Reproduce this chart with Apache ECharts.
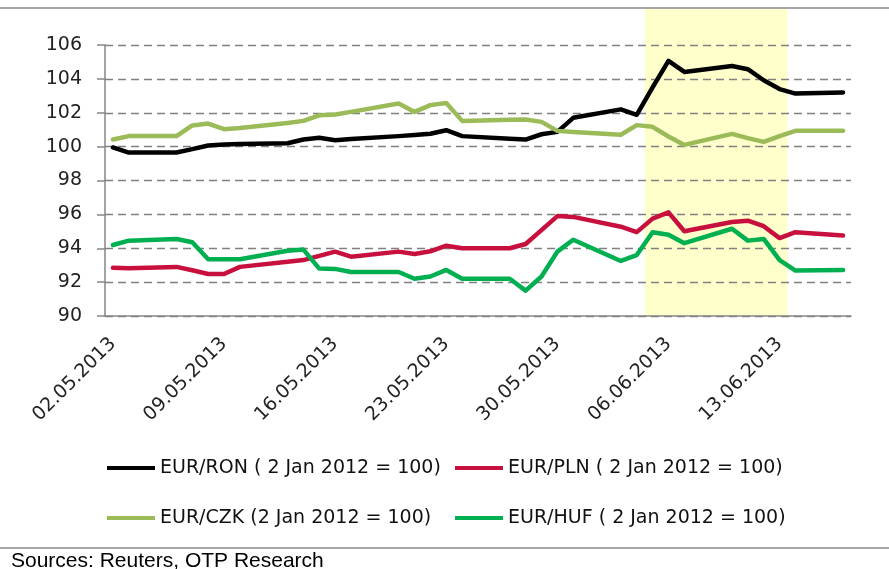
<!DOCTYPE html>
<html>
<head>
<meta charset="utf-8">
<script src="https://cdn.jsdelivr.net/npm/echarts@6/dist/echarts.min.js"></script>
<style>
  html, body { margin: 0; padding: 0; background: #fff; }
  #chart { width: 889px; height: 569px; }
</style>
</head>
<body>
<div id="chart"></div>
<script>
// trading days in the chart (2013)
const dates = ['02.05', '03.05', '06.05', '07.05', '08.05', '09.05', '10.05', '13.05', '14.05', '15.05', '16.05',
    '17.05', '20.05', '21.05', '22.05', '23.05', '24.05', '27.05', '28.05', '29.05', '30.05', '31.05',
    '03.06', '04.06', '05.06', '06.06', '07.06', '10.06', '11.06', '12.06', '13.06', '14.06', '17.06'];

const ron = [99.95, 99.65, 99.65, 99.85, 100.07, 100.12, 100.15, 100.2, 100.42, 100.52, 100.38, 100.45, 100.62,
    100.68, 100.76, 100.97, 100.62, 100.47, 100.42, 100.73, 100.87, 101.7, 102.2, 101.88, 103.5, 105.06, 104.41,
    104.76, 104.57, 103.92, 103.4, 103.13, 103.2];
const pln = [92.85, 92.82, 92.9, 92.7, 92.48, 92.48, 92.9, 93.2, 93.3, 93.55, 93.8, 93.5, 93.8, 93.66, 93.82,
    94.15, 94.0, 94.0, 94.25, 95.07, 95.9, 95.85, 95.27, 94.95, 95.75, 96.12, 95.0, 95.55, 95.63, 95.3, 94.6,
    94.95, 94.75];
const czk = [100.42, 100.62, 100.62, 101.25, 101.36, 101.03, 101.1, 101.4, 101.52, 101.85, 101.9, 102.05, 102.55,
    102.05, 102.45, 102.58, 101.52, 101.58, 101.6, 101.46, 100.93, 100.87, 100.7, 101.27, 101.17, 100.6, 100.1,
    100.75, 100.5, 100.28, 100.62, 100.93, 100.93];
const huf = [94.19, 94.45, 94.55, 94.35, 93.35, 93.35, 93.35, 93.85, 93.92, 92.8, 92.78, 92.6, 92.6, 92.2, 92.33,
    92.72, 92.2, 92.2, 91.5, 92.33, 93.8, 94.5, 93.25, 93.6, 94.95, 94.8, 94.3, 95.15, 94.45, 94.55, 93.3,
    92.68, 92.72];

const tickLabels = ['02.05.2013', '09.05.2013', '16.05.2013', '23.05.2013', '30.05.2013', '06.06.2013', '13.06.2013'];
const yTicks = [90, 106, 2];   // min, max, step
const highlightFrom = '05.06';
const highlightTo = '13.06';

const names = {
    ron: 'EUR/RON ( 2 Jan 2012 = 100)',
    pln: 'EUR/PLN ( 2 Jan 2012 = 100)',
    czk: 'EUR/CZK (2 Jan 2012 = 100)',
    huf: 'EUR/HUF ( 2 Jan 2012 = 100)'
};

function pad(n) {
    return (n < 10 ? '0' : '') + n;
}

// one slot per calendar day, weekends stay empty
const days = [];
let day = Date.UTC(2013, 4, 2);
const lastDay = Date.UTC(2013, 5, 17);
while (day <= lastDay) {
    const dt = new Date(day);
    days.push(pad(dt.getUTCDate()) + '.' + pad(dt.getUTCMonth() + 1));
    day += 86400000;
}

function onDays(values) {
    return days.map(k => {
        const i = dates.indexOf(k);
        return i < 0 ? null : values[i];
    });
}

function line(name, values, color) {
    return {
        name: name,
        type: 'line',
        data: onDays(values),
        connectNulls: true,
        symbol: 'none',
        color: color,
        lineStyle: {color: color, width: 4.5, cap: 'round', join: 'round'},
        z: 3
    };
}

const font = 'DejaVu Sans';
const axisGrey = '#868686';

function legendCol(left, items) {
    return {
        left: left, top: 458, orient: 'vertical', padding: 0,
        data: items,
        icon: 'rect', itemWidth: 48, itemHeight: 4, itemGap: 30,
        textStyle: {fontFamily: font, fontSize: 19, lineHeight: 20, color: '#111'}
    };
}

let chart = echarts.init(document.getElementById('chart'));

let option = {
    animation: false,
    backgroundColor: '#fff',
    grid: {left: 105, right: 38, top: 45, bottom: 253},
    xAxis: {
        type: 'category',
        data: days,
        boundaryGap: true,
        axisLine: {lineStyle: {color: axisGrey, width: 1.5}},
        axisTick: {interval: 6, length: 8, lineStyle: {color: axisGrey, width: 1.5}},
        axisLabel: {
            interval: 6,
            rotate: 45,
            margin: 25,
            fontFamily: font,
            fontSize: 19,
            color: '#222',
            formatter: (v, i) => tickLabels[i / 7]
        },
        splitLine: {show: false}
    },
    yAxis: {
        type: 'value',
        min: yTicks[0],
        max: yTicks[1],
        interval: yTicks[2],
        axisLine: {show: true, lineStyle: {color: axisGrey, width: 1.5}},
        axisTick: {show: true, length: 8, lineStyle: {color: axisGrey, width: 1.5}},
        axisLabel: {margin: 23, fontFamily: font, fontSize: 19, color: '#222'},
        splitLine: {lineStyle: {color: '#808080', width: 1.4, type: [8, 5]}}
    },
    legend: [
        legendCol(107, [names.ron, names.czk]),
        legendCol(455, [names.pln, names.huf])
    ],
    series: [
        line(names.ron, ron, '#000000'),
        line(names.pln, pln, '#C8103E'),
        line(names.czk, czk, '#9BBB59'),
        line(names.huf, huf, '#00B050')
    ],
    graphic: [
        {type: 'line', shape: {x1: 0, y1: 8, x2: 889, y2: 8}, style: {stroke: '#a6a6a6', lineWidth: 2}},
        {type: 'line', shape: {x1: 0, y1: 548, x2: 889, y2: 548}, style: {stroke: '#a6a6a6', lineWidth: 2}},
        {
            type: 'text', left: 11, top: 551,
            style: {text: 'Sources: Reuters, OTP Research', font: '21px "Liberation Sans", Arial, sans-serif', fill: '#000'}
        }
    ]
};

chart.setOption(option);

// shaded period, placed through the category axis
const i0 = days.indexOf(highlightFrom);
const i1 = days.indexOf(highlightTo);
const slot = chart.convertToPixel({xAxisIndex: 0}, days[1]) - chart.convertToPixel({xAxisIndex: 0}, days[0]);
const bx0 = chart.convertToPixel({xAxisIndex: 0}, days[i0]) - slot / 2;
const bx1 = chart.convertToPixel({xAxisIndex: 0}, days[i1]) + slot / 2;
const by1 = chart.convertToPixel({yAxisIndex: 0}, yTicks[0]);

chart.setOption({
    graphic: option.graphic.concat([{
        type: 'rect', z: -1,
        shape: {x: bx0, y: 9, width: bx1 - bx0, height: by1 - 9},
        style: {fill: '#FFFFCC'}
    }])
});
</script>
</body>
</html>
